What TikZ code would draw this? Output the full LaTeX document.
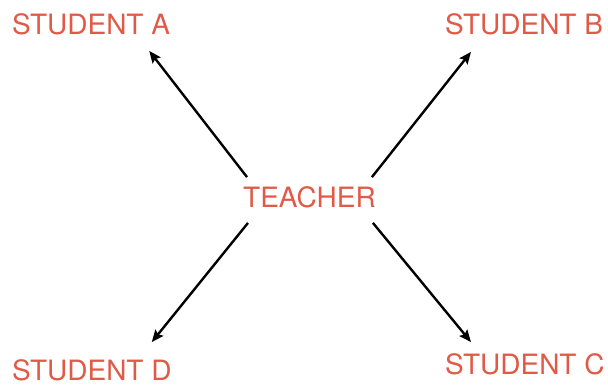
\documentclass[tikz,border=0pt]{standalone}
\usepackage{fontspec}
\setmainfont{TeX Gyre Heros}
\usetikzlibrary{arrows.meta, calc}
\definecolor{namered}{HTML}{E05A47}

\begin{document}
\begin{tikzpicture}[
    x=1pt, y=-1pt,
    % Node styles
    namebox/.style={
        inner sep=0pt, anchor=west, text=namered,
        font=\fontsize{28}{30}\selectfont
    },
    % Arrow styles
    arrow/.style={-{Stealth[length=12pt, width=10pt, inset=2pt]}, line width=2.4pt, black},
]
\useasboundingbox (0,0) rectangle (608,385);

% ============================================================
% LAYOUT: teacher in the middle, one student in each corner
% ============================================================

% --- Top Row ---
\node[namebox] (studA) at (12, 24) {STUDENT A};
\node[namebox] (studB) at (445, 24) {STUDENT B};

% --- Middle ---
\node[namebox] (teacher) at (243, 197) {TEACHER};

% --- Bottom Row ---
\node[namebox] (studD) at (12, 370) {STUDENT D};
\node[namebox] (studC) at (445, 364) {STUDENT C};

% ============================================================
% ARROWS - teacher out to each student
% ============================================================

% 1. Teacher -> Student A (up left)
\draw[arrow] ($(teacher.north west)+(4,-9)$) -- ($(studA.south east)+(-21,16)$);

% 2. Teacher -> Student B (up right)
\draw[arrow] ($(teacher.north east)+(-4,-9)$) -- ($(studB.south west)+(26,17)$);

% 3. Teacher -> Student D (down left)
\draw[arrow] ($(teacher.south west)+(5,15)$) -- ($(studD.north east)+(-20,-17)$);

% 4. Teacher -> Student C (down right)
\draw[arrow] ($(teacher.south east)+(-3,15)$) -- ($(studC.north west)+(26,-11)$);

\end{tikzpicture}
\end{document}
